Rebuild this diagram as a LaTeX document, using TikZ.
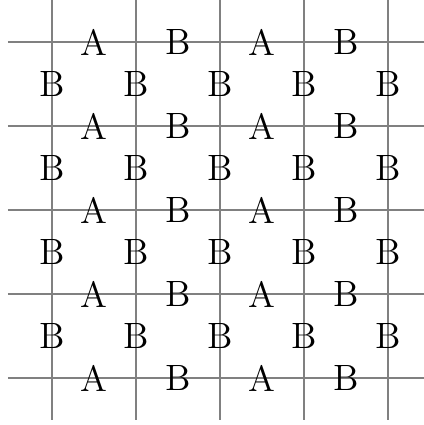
\documentclass[tikz,border=0pt]{standalone}
\begin{document}
\begin{tikzpicture}[
  gridline/.style={draw=gray, line width=0.75pt},
  lbl/.style={inner sep=0pt, font=\fontsize{12.4}{15}\selectfont}
]
\useasboundingbox (-0.623,0.504) rectangle (4.425,-4.556);
\begin{scope}
\clip (-0.623,0.504) rectangle (4.425,-4.556);
\foreach \i in {0,...,4} {
  \coordinate (hl\i) at (-0.53,-\i);
  \coordinate (hr\i) at (4.6,-\i);
  \coordinate (vt\i) at (\i,0.6);
  \coordinate (vb\i) at (\i,-4.5);
  \draw[gridline] (hl\i) -- (hr\i);
  \draw[gridline] (vt\i) -- (vb\i);
}
\end{scope}
\foreach \r in {0,...,4} {
  \node[lbl] (a\r-0) at (0.5,-\r) {A};
  \node[lbl] (b\r-1) at (1.5,-\r) {B};
  \node[lbl] (a\r-2) at (2.5,-\r) {A};
  \node[lbl] (b\r-3) at (3.5,-\r) {B};
}
\foreach \r in {0,...,3} {
  \foreach \c in {0,...,4} {
    \node[lbl] (v\r-\c) at (\c,-\r-0.5) {B};
  }
}
\end{tikzpicture}
\end{document}
